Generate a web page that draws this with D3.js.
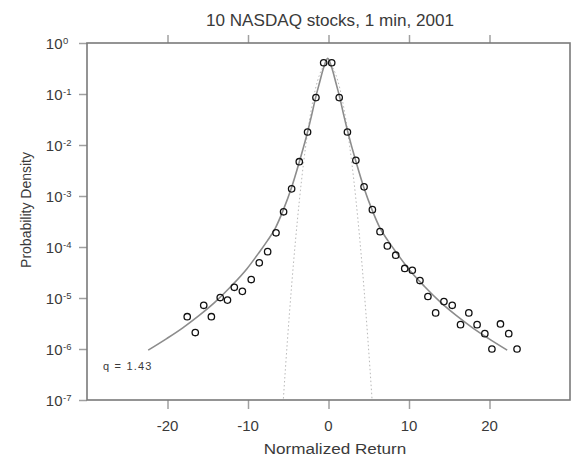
<!DOCTYPE html>
<html>
<head>
<meta charset="utf-8">
<script src="https://cdn.jsdelivr.net/npm/d3@7"></script>
<style>
  body { margin: 0; background: #fff; }
  text { font-family: "Liberation Sans", Arial, Helvetica, sans-serif; fill: #3a3a3a; }
</style>
</head>
<body>
<div id="chart"></div>
<script>

// binned returns (circles)
var returnX = [-17.55, -16.55, -15.5, -14.55, -13.45, -12.55, -11.7, -10.7, -9.6, -8.6, -7.56, -6.52,
  -5.58, -4.58, -3.63, -2.6, -1.56, -0.6, 0.4, 1.33, 2.35, 3.4, 4.42, 5.45, 6.4, 7.31, 8.35, 9.47,
  10.41, 11.36, 12.35, 13.31, 14.34, 15.37, 16.4, 17.43, 18.46, 19.42, 20.3, 21.36, 22.39, 23.42];
var returnDensity = [4.3e-6, 2.1e-6, 7.2e-6, 4.3e-6, 1.02e-5, 9.1e-6, 1.62e-5, 1.35e-5, 2.3e-5, 4.9e-5, 8.1e-5, 1.9e-4,
  4.9e-4, 1.38e-3, 4.7e-3, 0.018, 0.085, 0.41, 0.41, 0.085, 0.018, 5.0e-3, 1.51e-3, 5.4e-4, 2.0e-4, 1.05e-4, 6.9e-5, 3.8e-5,
  3.5e-5, 2.2e-5, 1.07e-5, 5.1e-6, 8.5e-6, 7.2e-6, 3.0e-6, 5.1e-6, 3.0e-6, 2.0e-6, 1.0e-6, 3.1e-6, 2.0e-6, 1.0e-6];

// q-gaussian fit (solid)
var fitX = [-22.4, -20.1, -18.1, -16.1, -14.1, -12.1, -10.1, -8.6, -7.6, -6.6, -5.6, -4.6, -3.6, -3.1, -2.6, -2.1,
  -1.6, -1.1, -0.6, -0.1, 0.4, 0.9, 1.4, 1.9, 2.4, 2.9, 3.4, 4.4, 5.4, 6.4, 7.4, 8.4, 9.9, 11.9, 13.9, 15.9, 17.9, 19.9, 22.2];
var fitY = [9.5e-7, 1.6e-6, 2.6e-6, 4.5e-6, 8.3e-6, 1.7e-5, 3.8e-5, 7.9e-5, 1.32e-4, 2.35e-4, 5.4e-4, 1.45e-3, 4.8e-3, 9.1e-3, 0.018, 0.038,
  0.085, 0.17, 0.33, 0.50, 0.33, 0.17, 0.085, 0.038, 0.018, 9.1e-3, 4.8e-3, 1.45e-3, 5.4e-4, 2.35e-4, 1.32e-4, 7.9e-5, 3.8e-5, 1.7e-5, 8.3e-6, 4.5e-6, 2.6e-6, 1.6e-6, 9.5e-7];

// gaussian (dotted)
var gaussX = [-5.7, -5.6, -5.1, -4.6, -4.1, -3.6, -3.1, -2.6, -2.1, -1.6, -1.1, -0.6, -0.1,
  0.4, 0.9, 1.4, 1.9, 2.4, 2.9, 3.4, 3.9, 4.4, 4.9, 5.4, 5.5];
var gaussY = [6.2e-8, 1.08e-7, 1.49e-6, 1.6e-5, 1.34e-4, 8.7e-4, 4.4e-3, 0.0175, 0.054, 0.13, 0.242, 0.352, 0.399,
  0.352, 0.242, 0.13, 0.054, 0.0175, 4.4e-3, 8.7e-4, 1.34e-4, 1.6e-5, 1.49e-6, 1.08e-7, 6.2e-8];

var xTicks = [-20, -10, 0, 10, 20];
var yExponents = [0, -1, -2, -3, -4, -5, -6, -7];

var width = 571, height = 458;
var margin = {top: 43, right: 1, bottom: 58, left: 87};

var svg = d3.select("#chart")
  .append("svg")
  .attr("width", width)
  .attr("height", height);

var x_scale = d3.scaleLinear()
  .domain([-30, 30])
  .range([margin.left, width - margin.right]);

var y_scale = d3.scaleLog()
  .domain([1e-7, 1])
  .range([height - margin.bottom, margin.top]);

svg.append("clipPath").attr("id", "plotclip")
  .append("rect")
  .attr("x", margin.left).attr("y", margin.top)
  .attr("width", x_scale.range()[1] - margin.left)
  .attr("height", y_scale.range()[0] - margin.top);

var plot = svg.append("g").attr("clip-path", "url(#plotclip)");

var line = d3.line()
  .x(function(d) { return x_scale(d[0]); })
  .y(function(d) { return y_scale(d[1]); })
  .curve(d3.curveMonotoneX);

// gaussian
plot.append("path")
  .datum(gaussX.map(function(x, i) { return [x, gaussY[i]]; }))
  .attr("d", line)
  .attr("fill", "none")
  .attr("stroke", "#b8b8b8")
  .attr("stroke-width", 1)
  .attr("stroke-dasharray", "1.5,2.5");

// fit
plot.append("path")
  .datum(fitX.map(function(x, i) { return [x, fitY[i]]; }))
  .attr("d", line)
  .attr("fill", "none")
  .attr("stroke", "#8c8c8c")
  .attr("stroke-width", 1.6);

plot.selectAll("circle")
  .data(returnX)
  .enter()
  .append("circle")
  .attr("cx", function(d) { return x_scale(d); })
  .attr("cy", function(d, i) { return y_scale(returnDensity[i]); })
  .attr("r", 3.2)
  .attr("fill", "none")
  .attr("stroke", "#111")
  .attr("stroke-width", 1.3);

// ticks
var x0 = margin.left, x1 = x_scale.range()[1];
var y0 = margin.top, y1 = y_scale.range()[0];

svg.append("g")
  .attr("transform", "translate(0," + y1 + ")")
  .call(d3.axisBottom(x_scale).tickValues(xTicks).tickSize(9).tickFormat(""))
  .call(function(g) { g.select(".domain").remove(); g.selectAll("line").attr("stroke", "#a0a0a0").attr("stroke-width", 1.5); });

svg.append("g")
  .attr("transform", "translate(0," + y0 + ")")
  .call(d3.axisTop(x_scale).tickValues(xTicks).tickSize(8).tickFormat(""))
  .call(function(g) { g.select(".domain").remove(); g.selectAll("line").attr("stroke", "#a0a0a0").attr("stroke-width", 1.5); });

svg.append("g")
  .attr("transform", "translate(" + x0 + ",0)")
  .call(d3.axisLeft(y_scale).tickValues(yExponents.map(function(e) { return Math.pow(10, e); })).tickSize(8).tickFormat(""))
  .call(function(g) { g.select(".domain").remove(); g.selectAll("line").attr("stroke", "#a0a0a0").attr("stroke-width", 1.5); });

// frame
svg.append("rect")
  .attr("x", x0).attr("y", y0)
  .attr("width", x1 - x0).attr("height", y1 - y0)
  .attr("fill", "none")
  .attr("stroke", "#7a7a7a")
  .attr("stroke-width", 1.6);

// tick labels
svg.selectAll(".xlab")
  .data(xTicks)
  .enter()
  .append("text")
  .attr("class", "xlab")
  .attr("x", function(d) { return x_scale(d); })
  .attr("y", 431)
  .attr("text-anchor", "middle")
  .style("font-size", "15px")
  .text(function(d) { return d; });

yExponents.forEach(function(e) {
  var ty = y_scale(Math.pow(10, e));
  svg.append("text")
    .attr("x", 62.5).attr("y", ty + 6)
    .attr("text-anchor", "end")
    .style("font-size", "15px")
    .text("10");
  svg.append("text")
    .attr("x", 63).attr("y", ty + 0.5)
    .style("font-size", "9.5px")
    .text(e);
});

// titles
function label(txt, x, y, size, sx, rot) {
  svg.append("text")
    .attr("transform", "translate(" + x + "," + y + ") scale(" + sx + ",1)" + (rot ? " rotate(" + rot + ")" : ""))
    .attr("text-anchor", "middle")
    .style("font-size", size + "px")
    .text(txt);
}

label("10 NASDAQ stocks, 1 min, 2001", 330, 26, 16, 1.07);
label("Normalized Return", 335, 454, 15, 1.14);
label("Probability Density", 31, 210, 14, 1.1, -90);

svg.append("text")
  .attr("x", 103).attr("y", 370)
  .style("font-size", "11px")
  .style("letter-spacing", "1.2px")
  .text("q = 1.43");

</script>
</body>
</html>
